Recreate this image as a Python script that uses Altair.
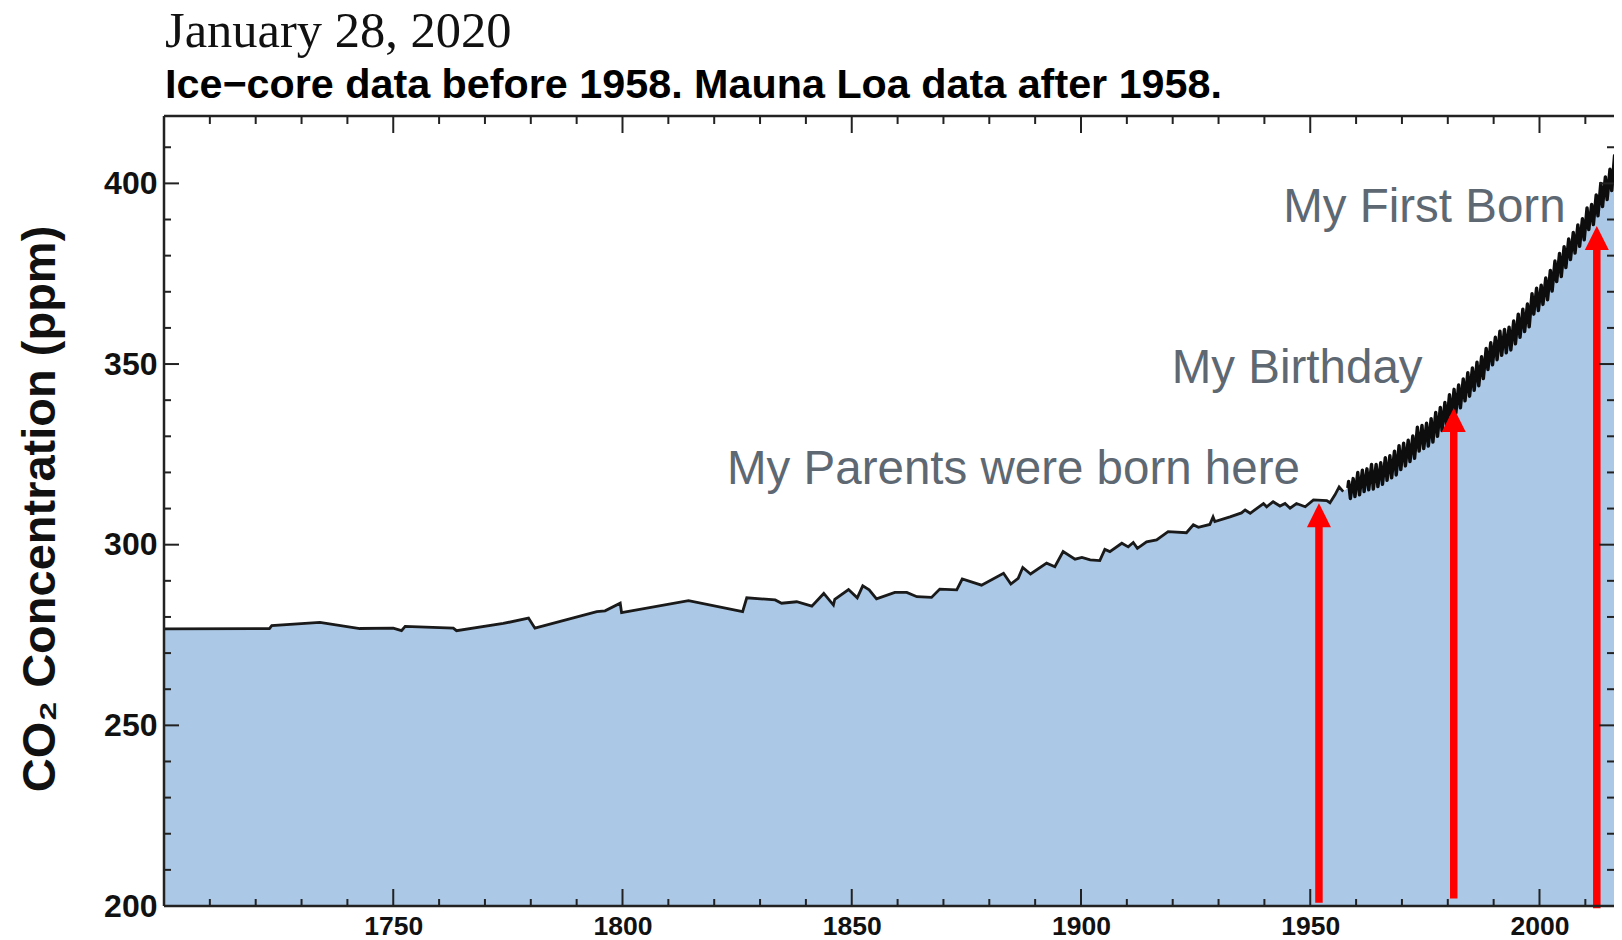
import altair as alt
import pandas as pd

# ---------------- data ----------------
ice_year = [1700.0, 1723.0, 1723.5, 1734.0, 1742.7, 1750.0, 1751.8, 1752.6, 1763.1, 1763.8,
            1774.0, 1779.5, 1780.9, 1794.4, 1796.2, 1799.5, 1799.8, 1814.4, 1826.2, 1827.1,
            1833.3, 1834.7, 1838.0, 1841.3, 1843.9, 1846.0, 1846.3, 1849.3, 1851.2, 1852.4,
            1853.8, 1855.4, 1859.4, 1862.0, 1864.2, 1867.4, 1869.2, 1872.9, 1874.1, 1878.3,
            1883.1, 1884.7, 1886.3, 1887.3, 1889.0, 1892.5, 1894.3, 1896.1, 1898.7, 1900.2,
            1902.0, 1904.1, 1905.2, 1906.3, 1908.9, 1910.3, 1911.4, 1912.3, 1914.3, 1916.5,
            1919.0, 1923.0, 1924.5, 1925.6, 1928.1, 1928.8, 1929.2, 1932.5, 1935.0, 1935.8,
            1936.9, 1939.8, 1940.5, 1941.9, 1943.4, 1944.5, 1945.6, 1947.0, 1948.9, 1950.7,
            1953.6, 1954.3, 1955.4, 1956.3, 1957.2]
ice_ppm = [276.7, 276.8, 277.6, 278.5, 276.8, 276.9, 276.2, 277.4, 276.9, 276.2,
           278.2, 279.7, 276.9, 281.5, 281.7, 283.8, 281.2, 284.5, 281.5, 285.3,
           284.7, 283.8, 284.2, 283.0, 286.5, 283.3, 284.9, 287.6, 285.3, 288.6,
           287.5, 285.0, 286.8, 286.8, 285.6, 285.4, 287.7, 287.5, 290.5, 288.8,
           292.1, 289.1, 290.7, 293.7, 291.9, 294.9, 293.9, 298.1, 296.0, 296.5,
           295.8, 295.6, 298.7, 298.1, 300.4, 299.4, 300.6, 299.0, 300.8, 301.3,
           303.6, 303.3, 305.5, 304.8, 305.6, 307.7, 306.4, 307.7, 308.8, 309.6,
           308.7, 311.4, 310.5, 311.9, 310.7, 311.4, 310.1, 311.4, 310.5, 312.4,
           312.2, 311.6, 313.8, 316.0, 314.7]

# Mauna Loa: first monthly value, then the yearly spring peak and autumn trough
ml_first_date = 1958.2
ml_first_ppm = 315.7
ml_years = list(range(1958, 2018))
ml_peak = [317.5, 318.3, 320.0, 320.6, 321.0, 322.2, 322.2, 322.7, 324.1, 324.6,
           325.9, 327.4, 328.1, 328.9, 330.1, 332.5, 333.0, 333.6, 334.9, 336.6,
           338.0, 339.4, 341.5, 343.0, 344.2, 345.9, 347.6, 348.9, 350.5, 352.0,
           354.3, 355.9, 357.4, 359.1, 359.6, 360.2, 361.9, 363.8, 365.2, 366.6,
           369.5, 371.0, 371.8, 373.8, 375.9, 378.5, 380.6, 382.5, 384.6, 386.4,
           388.5, 390.2, 393.2, 394.2, 396.8, 400.0, 401.8, 403.9, 407.7, 409.7]
ml_trough = [312.8, 313.3, 313.8, 314.7, 315.2, 315.4, 316.1, 316.7, 317.8, 318.5,
             319.3, 320.8, 321.8, 323.0, 323.9, 325.9, 326.6, 327.3, 328.4, 330.0,
             331.6, 333.1, 334.9, 336.4, 337.9, 339.8, 341.1, 342.7, 344.0, 346.0,
             348.5, 349.8, 351.2, 352.4, 353.1, 353.9, 355.6, 357.4, 359.0, 360.3,
             363.8, 364.8, 366.5, 367.8, 370.2, 372.8, 374.2, 376.7, 378.9, 380.7,
             382.6, 384.4, 387.2, 388.6, 391.0, 393.6, 395.5, 398.0, 401.5, 403.6]
PEAK_PHASE = 0.37   # May
TROUGH_PHASE = 0.75 # late September / October

x_label_years = [1750, 1800, 1850, 1900, 1950, 2000]
x_minor_years = [y for y in range(1710, 2017, 10) if y % 50 != 0]
y_label_values = [200, 250, 300, 350, 400]
y_minor_values = [v for v in range(210, 419, 10) if v % 50 != 0]

arrow_year = [1951.9, 1981.3, 2012.5]
arrow_bottom = [200.9, 202.1, 199.4]
arrow_tip = [311.5, 337.8, 388.2]

note_text = ["My Parents were born here", "My Birthday", "My First Born"]
note_year = [1822.8, 1919.8, 1944.1]
note_ppm = [316.8, 344.7, 389.4]

date_title = "January 28, 2020"
sub_title = "Ice\u2212core data before 1958. Mauna Loa data after 1958."
y_title = "CO\u2082 Concentration (ppm)"

# ---------------- tables ----------------
ice_df = pd.DataFrame({"year": ice_year, "ppm": ice_ppm})
ml_rows = [(ml_first_date, ml_first_ppm)]
for yr, pk, tr in zip(ml_years, ml_peak, ml_trough):
    ml_rows.append((yr + PEAK_PHASE, pk))
    ml_rows.append((yr + TROUGH_PHASE, tr))
ml_df = pd.DataFrame(ml_rows, columns=["year", "ppm"])
area_df = pd.concat([ice_df, ml_df]).sort_values("year").reset_index(drop=True)
arrow_df = pd.DataFrame({"year": arrow_year, "ppm": arrow_bottom, "tip": arrow_tip})
head_df = pd.DataFrame({"year": arrow_year, "ppm": arrow_tip})
note_df = pd.DataFrame({"year": note_year, "ppm": note_ppm, "text": note_text})

# ---------------- styling ----------------
W, H = 1450, 790
FONT = "Liberation Sans"
AX = "#222222"
x_scale = alt.Scale(domain=[1700, 2016.25], nice=False, zero=False)
y_scale = alt.Scale(domain=[200, 418.65], nice=False, zero=False)
x_axis = alt.Axis(values=x_label_years, title=None, grid=False, ticks=False, tickSize=0,
                  domain=False, labelFont=FONT, labelFontSize=26.5, labelFontWeight="bold",
                  labelColor="#111111", labelBaseline="alphabetic", labelPadding=28,
                  format="d")
y_axis = alt.Axis(values=y_label_values, title=None, grid=False, ticks=False, tickSize=0,
                  domain=False, labelFont=FONT, labelFontSize=32, labelFontWeight="bold",
                  labelColor="#111111", labelPadding=7, format="d")


def X(field="year"):
    return alt.X(f"{field}:Q", scale=x_scale, axis=x_axis)


def Y(field="ppm"):
    return alt.Y(f"{field}:Q", scale=y_scale, axis=y_axis)


area = alt.Chart(area_df).mark_area(color="#abc8e6", clip=True).encode(
    x=X(), y=Y(), y2=alt.datum(200))
ice_line = alt.Chart(ice_df).mark_line(color="#1a1a1a", strokeWidth=2.8, clip=True).encode(
    x=X(), y=Y())
ml_line = alt.Chart(ml_df).mark_line(color="#0d0d0d", strokeWidth=3.4, clip=True,
                                     strokeJoin="round").encode(x=X(), y=Y())

shafts = alt.Chart(arrow_df).mark_rule(color="#ff0000", strokeWidth=7.5, y2Offset=18).encode(
    x=X(), y=Y(), y2="tip:Q")
heads = alt.Chart(head_df).mark_point(shape="M-1,1L1,1L0,-1Z", size=576, filled=True,
                                      color="#ff0000", opacity=1, strokeWidth=0,
                                      yOffset=12).encode(x=X(), y=Y())

notes = alt.Chart(note_df).mark_text(align="left", baseline="alphabetic", font=FONT,
                                     fontSize=47.5, color="#5e6872").encode(
    x=X(), y=Y(), text="text:N")


def ticks_x(values, length, top):
    df = pd.DataFrame({"year": values})
    if top:
        enc = dict(y=alt.value(0), y2=alt.value(length))
    else:
        enc = dict(y=alt.value(H), y2=alt.value(H - length))
    return alt.Chart(df).mark_rule(color=AX, strokeWidth=2).encode(x=X(), **enc)


def ticks_y(values, length, right):
    df = pd.DataFrame({"ppm": values})
    if right:
        enc = dict(x=alt.value(W), x2=alt.value(W - length))
    else:
        enc = dict(x=alt.value(0), x2=alt.value(length))
    return alt.Chart(df).mark_rule(color=AX, strokeWidth=2).encode(y=Y(), **enc)


one = pd.DataFrame({"k": [0]})
frame_top = alt.Chart(one).mark_rule(color=AX, strokeWidth=2.5).encode(
    x=alt.value(0), x2=alt.value(W), y=alt.value(0))
frame_left = alt.Chart(one).mark_rule(color=AX, strokeWidth=2.5).encode(
    x=alt.value(0), y=alt.value(0), y2=alt.value(H))
frame_bottom = alt.Chart(one).mark_rule(color=AX, strokeWidth=2.5).encode(
    x=alt.value(0), x2=alt.value(W), y=alt.value(H))

t_date = alt.Chart(pd.DataFrame({"t": [date_title]})).mark_text(
    align="left", baseline="alphabetic", font="Liberation Serif", fontSize=50.5,
    color="#111111").encode(text="t:N", x=alt.value(1), y=alt.value(-69.5))
t_sub = alt.Chart(pd.DataFrame({"t": [sub_title]})).mark_text(
    align="left", baseline="alphabetic", font=FONT, fontSize=41.3, fontWeight="bold",
    color="#000000").encode(text="t:N", x=alt.value(1), y=alt.value(-18))
t_y = alt.Chart(pd.DataFrame({"t": [y_title]})).mark_text(
    align="center", baseline="alphabetic", font=FONT, fontSize=47, fontWeight="bold",
    angle=270, color="#111111").encode(text="t:N", x=alt.value(-109), y=alt.value(393))

chart = alt.layer(
    area, ice_line, ml_line, shafts, heads, notes,
    ticks_x(x_label_years, 17, False), ticks_x(x_minor_years, 7, False),
    ticks_x(x_label_years, 17, True), ticks_x(x_minor_years, 8, True),
    ticks_y(y_label_values, 15, False), ticks_y(y_minor_values, 7, False),
    ticks_y(y_label_values, 15, True), ticks_y(y_minor_values, 7, True),
    frame_top, frame_left, frame_bottom,
    t_date, t_sub, t_y,
).properties(
    width=W, height=H,
    autosize=alt.AutoSizeParams(type="none"),
    padding={"left": 156, "top": 108, "right": 0, "bottom": 34},
).configure_view(stroke="transparent").configure(background="white")

chart.save("out.html", embed_options={"renderer": "svg", "actions": False})
